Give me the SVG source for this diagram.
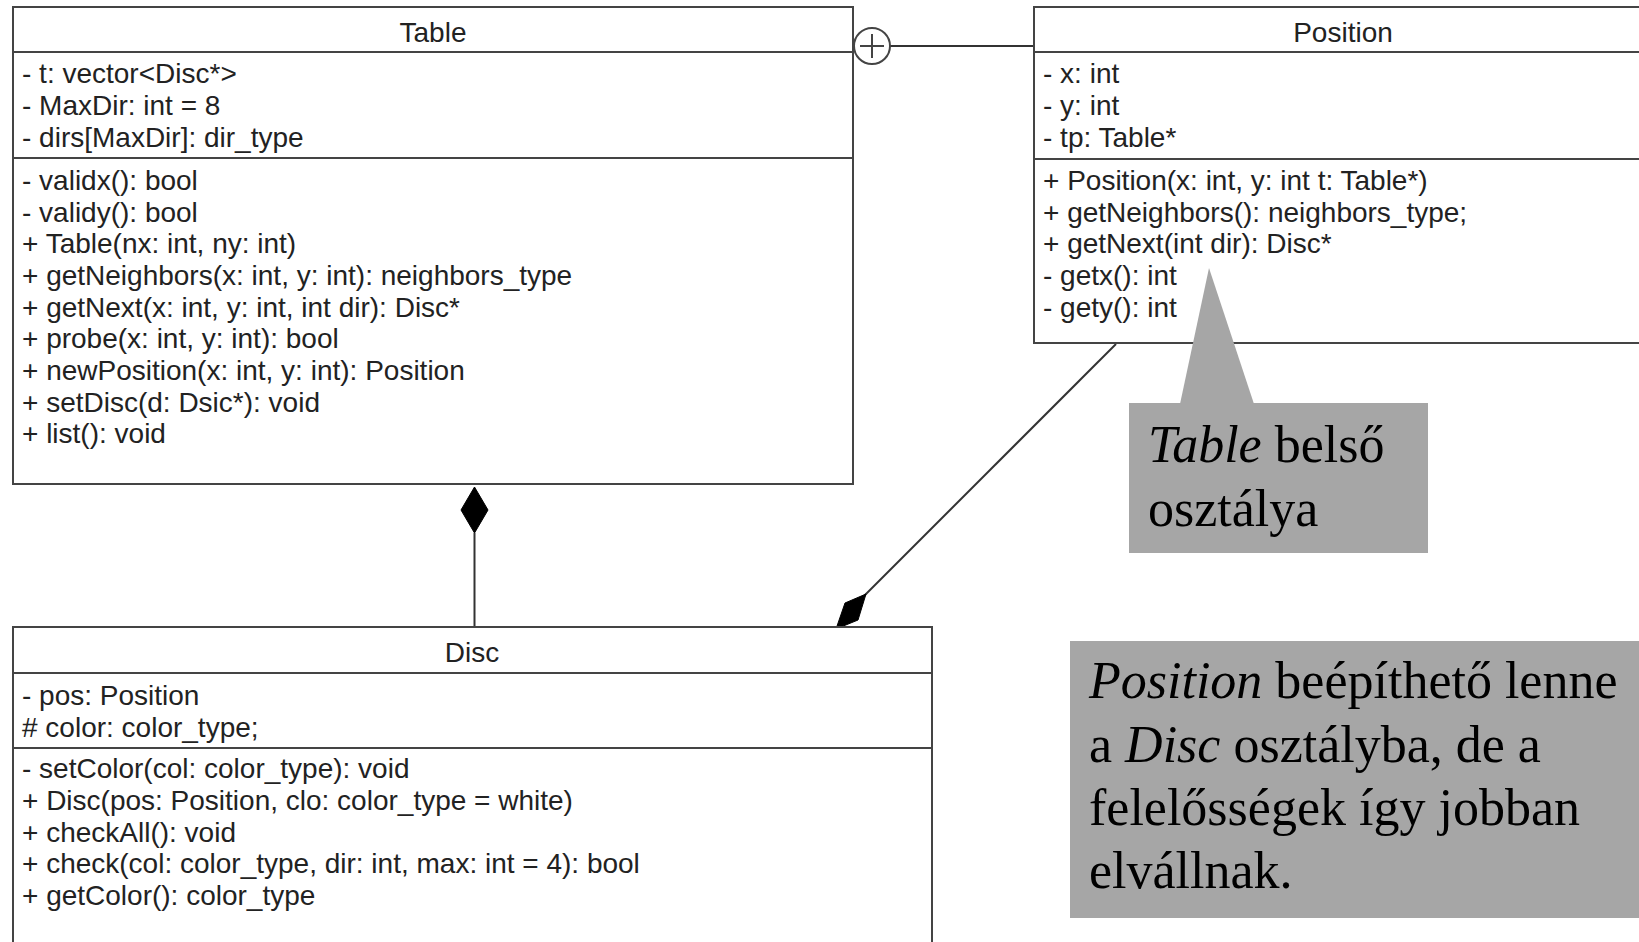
<svg xmlns="http://www.w3.org/2000/svg" width="1639" height="942" viewBox="0 0 1639 942">
<style>
.box{fill:#fff;stroke:#444;stroke-width:2}
.sep{stroke:#444;stroke-width:2}
.t{font-family:"Liberation Sans",Arial,sans-serif;font-size:28px;fill:#222}
.h{font-family:"Liberation Sans",Arial,sans-serif;font-size:28px;fill:#222;text-anchor:middle}
.conn{stroke:#333;stroke-width:2;fill:none}
.dia{fill:#000;stroke:#000;stroke-width:1}
.note{fill:#a6a6a6}
.nt{font-family:"Liberation Serif","Times New Roman",serif;font-size:52px;fill:#000}
</style>
<rect width="1639" height="942" fill="#fff"/>
<g id="connectors">
  <line class="conn" x1="890" y1="46" x2="1034" y2="46"/>
  <line class="conn" x1="474.5" y1="533" x2="474.5" y2="627"/>
  <polygon class="dia" points="474.5,487 488,510 474.5,533 461,510"/>
  <line class="conn" x1="1116" y1="344" x2="864" y2="596"/>
  <polygon class="dia" points="866,594 858,620 836,629 845,603"/>
</g>
<g id="Table">
  <rect class="box" x="13" y="7" width="840" height="477"/>
  <line class="sep" x1="13" y1="52" x2="853" y2="52"/>
  <line class="sep" x1="13" y1="158" x2="853" y2="158"/>
  <text class="h" x="433" y="42">Table</text>
  <text class="t" x="22" y="83">- t: vector&lt;Disc*&gt;</text>
  <text class="t" x="22" y="115">- MaxDir: int = 8</text>
  <text class="t" x="22" y="147">- dirs[MaxDir]: dir_type</text>
  <text class="t" x="22" y="190">- validx(): bool</text>
  <text class="t" x="22" y="222">- validy(): bool</text>
  <text class="t" x="22" y="253">+ Table(nx: int, ny: int)</text>
  <text class="t" x="22" y="285">+ getNeighbors(x: int, y: int): neighbors_type</text>
  <text class="t" x="22" y="317">+ getNext(x: int, y: int, int dir): Disc*</text>
  <text class="t" x="22" y="348">+ probe(x: int, y: int): bool</text>
  <text class="t" x="22" y="380">+ newPosition(x: int, y: int): Position</text>
  <text class="t" x="22" y="412">+ setDisc(d: Dsic*): void</text>
  <text class="t" x="22" y="443">+ list(): void</text>
</g>
<g id="nest">
  <circle cx="872" cy="46" r="18" fill="#fff" stroke="#444" stroke-width="2"/>
  <line class="sep" x1="860" y1="46" x2="884" y2="46"/>
  <line class="sep" x1="872" y1="34" x2="872" y2="58"/>
</g>
<g id="Position">
  <rect class="box" x="1034" y="7" width="620" height="336"/>
  <line class="sep" x1="1034" y1="52" x2="1654" y2="52"/>
  <line class="sep" x1="1034" y1="159" x2="1654" y2="159"/>
  <text class="h" x="1343" y="42">Position</text>
  <text class="t" x="1043" y="83">- x: int</text>
  <text class="t" x="1043" y="115">- y: int</text>
  <text class="t" x="1043" y="147">- tp: Table*</text>
  <text class="t" x="1043" y="190">+ Position(x: int, y: int t: Table*)</text>
  <text class="t" x="1043" y="222">+ getNeighbors(): neighbors_type;</text>
  <text class="t" x="1043" y="253">+ getNext(int dir): Disc*</text>
  <text class="t" x="1043" y="285">- getx(): int</text>
  <text class="t" x="1043" y="317">- gety(): int</text>
</g>
<g id="Disc">
  <rect class="box" x="13" y="627" width="919" height="330"/>
  <line class="sep" x1="13" y1="673" x2="932" y2="673"/>
  <line class="sep" x1="13" y1="748" x2="932" y2="748"/>
  <text class="h" x="472" y="662">Disc</text>
  <text class="t" x="22" y="705">- pos: Position</text>
  <text class="t" x="22" y="737"># color: color_type;</text>
  <text class="t" x="22" y="778">- setColor(col: color_type): void</text>
  <text class="t" x="22" y="810">+ Disc(pos: Position, clo: color_type = white)</text>
  <text class="t" x="22" y="842">+ checkAll(): void</text>
  <text class="t" x="22" y="873">+ check(col: color_type, dir: int, max: int = 4): bool</text>
  <text class="t" x="22" y="905">+ getColor(): color_type</text>
</g>
<g id="note1">
  <polygon class="note" points="1209,268 1254,404 1180,404"/>
  <rect class="note" x="1129" y="403" width="299" height="150"/>
  <text class="nt" x="1148" y="462"><tspan font-style="italic">Table</tspan> belső</text>
  <text class="nt" x="1148" y="526">osztálya</text>
</g>
<g id="note2">
  <rect class="note" x="1070" y="641" width="580" height="277"/>
  <text class="nt" x="1089" y="698"><tspan font-style="italic">Position</tspan> beépíthető lenne</text>
  <text class="nt" x="1089" y="762">a <tspan font-style="italic">Disc</tspan> osztályba, de a</text>
  <text class="nt" x="1089" y="825">felelősségek így jobban</text>
  <text class="nt" x="1089" y="888">elvállnak.</text>
</g>
</svg>
